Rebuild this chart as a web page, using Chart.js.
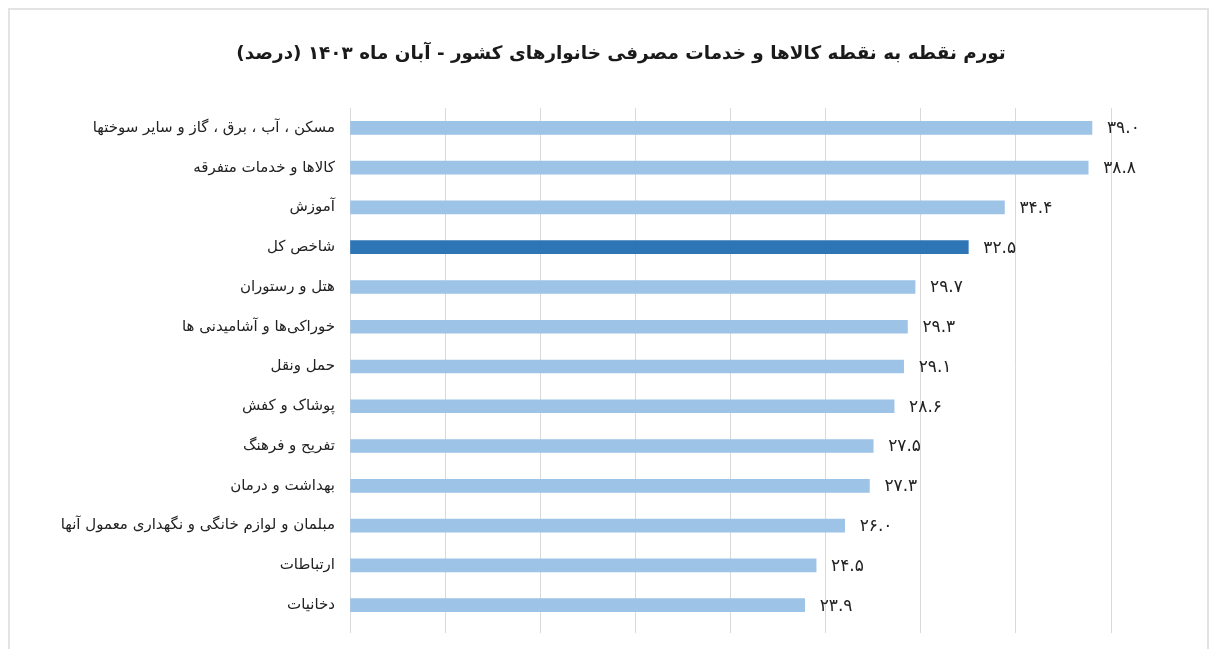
<!DOCTYPE html>
<html lang="fa">
<head>
<meta charset="utf-8">
<title>تورم نقطه به نقطه</title>
<script src="https://cdn.jsdelivr.net/npm/chart.js@4.4.1/dist/chart.umd.min.js"></script>
<style>
    html, body { margin: 0; padding: 0; background: #fff; overflow: hidden; }
    #wrap { position: relative; width: 1227px; height: 649px; }
    #frame {
        position: absolute; left: 8px; top: 8px; width: 1197px; height: 700px;
        border: 2px solid #e3e3e3; pointer-events: none;
    }
</style>
</head>
<body>
<div id="wrap">
    <canvas id="inflationChart" width="1227" height="649" dir="rtl"></canvas>
    <div id="frame"></div>
</div>
<script>
// categories, top to bottom
var categories = [
    'مسکن ، آب ، برق ، گاز و سایر سوختها',
    'کالاها و خدمات متفرقه',
    'آموزش',
    'شاخص کل',
    'هتل و رستوران',
    'خوراکی‌ها و آشامیدنی ها',
    'حمل ونقل',
    'پوشاک و کفش',
    'تفریح و فرهنگ',
    'بهداشت و درمان',
    'مبلمان و لوازم خانگی و نگهداری معمول آنها',
    'ارتباطات',
    'دخانیات'
];
var inflationValues = [39.0, 38.8, 34.4, 32.5, 29.7, 29.3, 29.1, 28.6, 27.5, 27.3, 26.0, 24.5, 23.9];
var chartTitle = 'تورم نقطه به نقطه کالاها و خدمات مصرفی خانوارهای کشور - آبان ماه ۱۴۰۳ (درصد)';

var lightBlue = '#9dc3e6';
var darkBlue = '#2e75b6';

// persian digits for the value labels
function toPersian(v) {
    var digits = '۰۱۲۳۴۵۶۷۸۹';
    return v.toFixed(1).replace(/[0-9]/g, function (d) { return digits[+d]; });
}

var barColors = categories.map(function (c) {
    return c === 'شاخص کل' ? darkBlue : lightBlue;
});

// draw value next to the end of each bar
var valueLabels = {
    id: 'valueLabels',
    afterDatasetsDraw: function (chart) {
        var ctx = chart.ctx;
        var meta = chart.getDatasetMeta(0);
        ctx.save();
        ctx.font = '17px "DejaVu Sans"';
        ctx.fillStyle = '#222';
        ctx.textAlign = 'left';
        ctx.textBaseline = 'middle';
        meta.data.forEach(function (bar, i) {
            ctx.fillText(toPersian(inflationValues[i]), bar.x + 15, bar.y + 1);
        });
        ctx.restore();
    }
};

// title is drawn by hand: the built-in one centres on the padded box,
// the original sits a bit further right
var centredTitle = {
    id: 'centredTitle',
    afterDraw: function (chart) {
        var ctx = chart.ctx;
        ctx.save();
        ctx.font = 'bold 18.4px "DejaVu Sans"';
        ctx.fillStyle = '#1a1a1a';
        ctx.textAlign = 'center';
        ctx.textBaseline = 'middle';
        ctx.fillText(chartTitle, 621, 54);
        ctx.restore();
    }
};

var ctx = document.getElementById('inflationChart').getContext('2d');
new Chart(ctx, {
    type: 'bar',
    data: {
        labels: categories,
        datasets: [{
            data: inflationValues,
            backgroundColor: barColors,
            barThickness: 13
        }]
    },
    options: {
        indexAxis: 'y',
        responsive: false,
        animation: false,
        layout: { padding: { left: 10, right: 116, top: 108, bottom: 16 } },
        plugins: {
            legend: { display: false },
            tooltip: { enabled: false },
            title: { display: false }
        },
        scales: {
            x: {
                min: 0,
                max: 40,
                ticks: { display: false, stepSize: 5 },
                grid: { color: '#d9d9d9', drawTicks: true, tickLength: 8 },
                border: { display: false }
            },
            y: {
                ticks: {
                    color: '#222',
                    padding: 7,
                    font: { family: '"DejaVu Sans"', size: 15 }
                },
                grid: { display: false },
                border: { display: false },
                afterFit: function (scale) { scale.width = 340; }
            }
        }
    },
    plugins: [valueLabels, centredTitle]
});
</script>
</body>
</html>
